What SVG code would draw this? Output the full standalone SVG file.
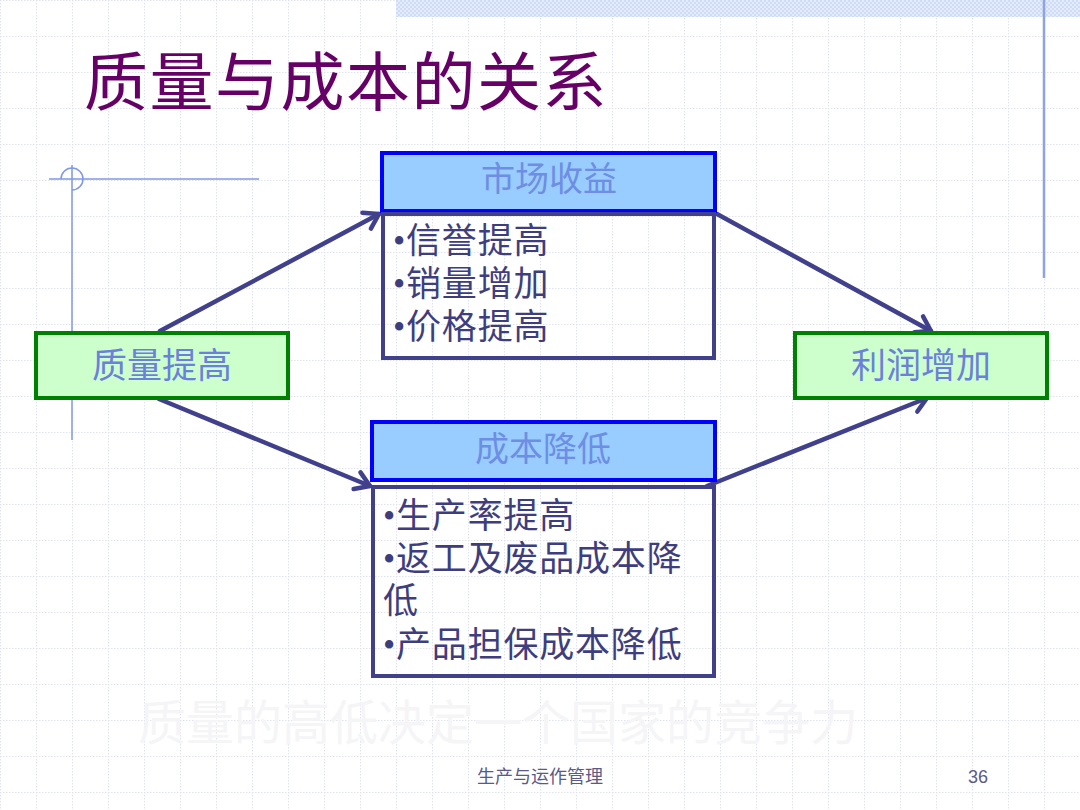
<svg xmlns="http://www.w3.org/2000/svg" width="1080" height="810" viewBox="0 0 1080 810">
<defs>
<pattern id="grid" width="36" height="36" patternUnits="userSpaceOnUse">
<path d="M0,0.5 H36 M0.5,0 V36" fill="none" stroke="#dfe3ed" stroke-width="1" stroke-dasharray="1.5 1.5"/>
</pattern>
<pattern id="checker" width="4" height="4" patternUnits="userSpaceOnUse">
<rect width="4" height="4" fill="#e4ebfc"/>
<rect width="2" height="2" fill="#cfdcf8"/>
<rect x="2" y="2" width="2" height="2" fill="#cfdcf8"/>
</pattern>
<marker id="arr" viewBox="-18 -13 22 26" markerWidth="22" markerHeight="26" refX="0" refY="0" orient="auto" markerUnits="userSpaceOnUse">
<path d="M-14,-9 L0,0 L-14,9" fill="none" stroke="#40408c" stroke-width="4.5" stroke-linecap="round" stroke-linejoin="round"/>
</marker>
</defs>
<style>
.cjk{font-family:"Liberation Serif","Noto Sans CJK SC",serif}
.title{font-size:64px;fill:#660066;letter-spacing:1.5px}
.node rect{fill:#ccffcc;stroke:#008000;stroke-width:4}
.node text{font-size:35px;fill:#6b7fdc;text-anchor:middle}
.hdr rect{fill:#99ccff;stroke:#0000ff;stroke-width:4}
.hdr text{font-size:34px;fill:#6d8ee4;text-anchor:middle}
.body rect{fill:none;stroke:#41418a;stroke-width:4}
.body text{font-size:35px;fill:#3e3e7e;letter-spacing:0.8px}
.conn line{stroke:#40408c;stroke-width:4.5;stroke-linecap:round;marker-end:url(#arr)}
.deco{stroke:#7f98e4;stroke-width:1.5;fill:none}
.foot{font-size:18px;fill:#5a5a88}
</style>
<rect width="1080" height="810" fill="#ffffff"/>
<rect width="1080" height="810" fill="url(#grid)"/>
<rect x="396" y="0" width="684" height="17" fill="url(#checker)"/>
<line x1="1044" y1="0" x2="1044" y2="278" stroke="#8da3e2" stroke-width="2.5"/>
<g id="decoration">
<line class="deco" x1="49" y1="179" x2="259" y2="179"/>
<line class="deco" x1="72" y1="165" x2="72" y2="440"/>
<path class="deco" d="M61,179 A11,11 0 0 1 83,179 A11,11 0 0 1 72,190"/>
</g>
<text class="cjk title" x="84" y="105">质量与成本的关系</text>
<text class="cjk" x="498" y="740" font-size="48" fill="#f5f5f7" text-anchor="middle">质量的高低决定一个国家的竞争力</text>
<g id="connectors" class="conn">
<line x1="160" y1="331" x2="379" y2="214"/>
<line x1="159" y1="399" x2="370" y2="486"/>
<line x1="717" y1="214" x2="931" y2="331"/>
<line x1="707" y1="486" x2="927" y2="398"/>
</g>
<g id="node-quality" class="node">
<rect x="36" y="333" width="252" height="65"/>
<text class="cjk" x="162" y="378">质量提高</text>
</g>
<g id="node-profit" class="node">
<rect x="795" y="333" width="252" height="65"/>
<text class="cjk" x="921" y="378">利润增加</text>
</g>
<g id="node-market">
<g class="hdr">
<rect x="382" y="153" width="333" height="58"/>
<text class="cjk" x="549" y="191">市场收益</text>
</g>
<g class="body">
<rect x="383" y="214" width="331" height="144"/>
<text class="cjk" x="393" y="253">•信誉提高</text>
<text class="cjk" x="393" y="296">•销量增加</text>
<text class="cjk" x="393" y="339">•价格提高</text>
</g>
</g>
<g id="node-cost">
<g class="hdr">
<rect x="372" y="422" width="343" height="58"/>
<text class="cjk" x="543" y="461">成本降低</text>
</g>
<g class="body">
<rect x="373" y="487" width="341" height="189"/>
<text class="cjk" x="383" y="528">•生产率提高</text>
<text class="cjk" x="383" y="571">•返工及废品成本降</text>
<text class="cjk" x="383" y="613">低</text>
<text class="cjk" x="383" y="657">•产品担保成本降低</text>
</g>
</g>
<text class="foot" x="477" y="783" font-family="Noto Sans CJK SC, sans-serif">生产与运作管理</text>
<text class="foot" x="968" y="783" font-family="Liberation Sans, sans-serif" fill="#44446e">36</text>
</svg>
